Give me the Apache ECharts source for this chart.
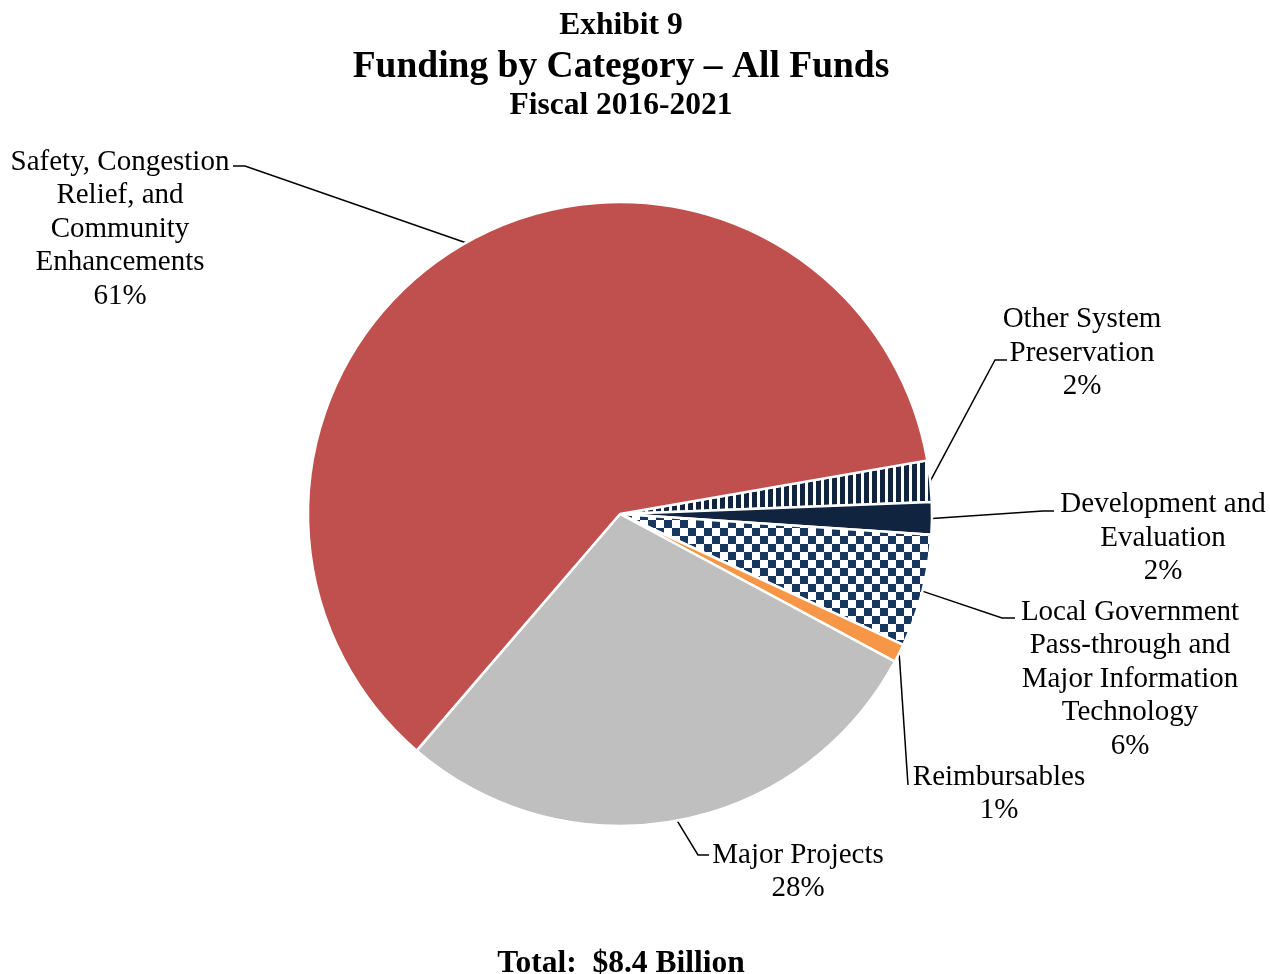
<!DOCTYPE html>
<html>
<head>
<meta charset="utf-8">
<script src="https://cdn.jsdelivr.net/npm/echarts@6/dist/echarts.min.js"></script>
<style>
  html, body { margin: 0; padding: 0; background: #fff; }
  #chart { width: 1270px; height: 974px; }
</style>
</head>
<body>
<div id="chart"></div>
<script>
// slices in clockwise order, starting just above 3 o'clock
var categories = [
  "Other System\nPreservation",
  "Development and\nEvaluation",
  "Local Government\nPass-through and\nMajor Information\nTechnology",
  "Reimbursables",
  "Major Projects",
  "Safety, Congestion\nRelief, and\nCommunity\nEnhancements"
];
var funding = [0.18, 0.14, 0.49, 0.08, 2.39, 5.12]; // $ billions
var titleLines = ["Exhibit 9", "Funding by Category \u2013 All Funds", "Fiscal 2016-2021"];
var totalText = "Total:  $8.4 Billion";

// where each label sits (centre of text block) and the bend of its leader line
var labelSpots = [
  { x: 1082, y: 353, bend: [[995, 360], [1007, 360]] },
  { x: 1163, y: 538, bend: [[1043, 511], [1054, 511]] },
  { x: 1130, y: 679, bend: [[1002, 618], [1015, 618]] },
  { x: 999, y: 794, bend: [[908, 785], [908, 785]] },
  { x: 798, y: 872, bend: [[698, 855], [709, 855]] },
  { x: 120, y: 229, bend: [[245, 166], [233, 166]] }
];

function makeTile(size, draw) {
  var c = document.createElement("canvas");
  c.width = size; c.height = size;
  var g = c.getContext("2d");
  g.fillStyle = "#ffffff";
  g.fillRect(0, 0, size, size);
  draw(g);
  return c;
}
var stripes = makeTile(8, function (g) {
  g.fillStyle = "#10243f";
  g.fillRect(0, 0, 5, 8);
});
var checks = makeTile(16, function (g) {
  g.fillStyle = "#17375e";
  g.fillRect(0, 0, 8, 8);
  g.fillRect(8, 8, 8, 8);
});

var sliceColors = [
  { image: stripes, repeat: "repeat" },
  "#10243f",
  { image: checks, repeat: "repeat" },
  "#f79646",
  "#bfbfbf",
  "#c0504d"
];

var chartDom = document.getElementById("chart");
var myChart = echarts.init(chartDom);
var font = "'Liberation Serif', 'Times New Roman', serif";

function heading(text, top, size, lh) {
  return {
    text: text, left: 621, top: top, textAlign: "center", padding: 0,
    textStyle: { fontFamily: font, fontSize: size, fontWeight: "bold", lineHeight: lh, color: "#000" }
  };
}

var option = {
  animation: false,
  backgroundColor: "#ffffff",
  title: [
    heading(titleLines[0], 9, 31.5, 34),
    heading(titleLines[1], 46, 37.5, 42),
    heading(titleLines[2], 89, 31.5, 34),
    heading(totalText, 947, 31.5, 34)
  ],
  series: [{
    type: "pie",
    center: [620, 514],
    radius: 312,
    startAngle: 9.9,
    clockwise: true,
    percentPrecision: 0,
    avoidLabelOverlap: false,
    data: categories.map(function (name, i) {
      return { name: name, value: funding[i], itemStyle: { color: sliceColors[i] } };
    }),
    itemStyle: { borderColor: "#ffffff", borderWidth: 2.5 },
    label: {
      show: true,
      position: "outside",
      formatter: "{b}\n{d}%",
      fontFamily: font,
      fontSize: 29,
      lineHeight: 33.5,
      color: "#000",
      align: "center"
    },
    labelLine: { show: true, smooth: false, lineStyle: { color: "#000", width: 1.5 } },
    labelLayout: function (params) {
      var s = labelSpots[params.dataIndex];
      var start = params.labelLinePoints ? params.labelLinePoints[0] : s.bend[0];
      return {
        x: s.x, y: s.y, align: "center", verticalAlign: "middle",
        labelLinePoints: [start, s.bend[0], s.bend[1]]
      };
    },
    emphasis: { disabled: true }
  }]
};

option && myChart.setOption(option);
</script>
</body>
</html>
